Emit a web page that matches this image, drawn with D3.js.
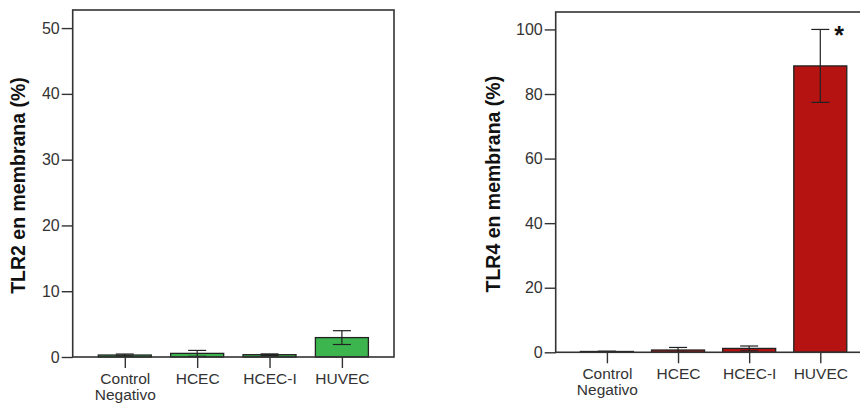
<!DOCTYPE html>
<html>
<head>
<meta charset="utf-8">
<script src="https://cdn.jsdelivr.net/npm/d3@7"></script>
<style>
  html, body { margin: 0; padding: 0; background: #fff; }
  svg { display: block; font-family: "Liberation Sans", Arial, sans-serif; }
</style>
</head>
<body>
<svg id="chart" width="860" height="406"></svg>
<script>
const categories = ["Control Negativo", "HCEC", "HCEC-I", "HUVEC"];
const tlr2Means = [0.3, 0.55, 0.35, 2.95];
const tlr2Errors = [0.15, 0.45, 0.12, 1.05];
const tlr4Means = [0.25, 0.7, 1.2, 88.7];
const tlr4Errors = [0.1, 0.8, 0.75, 11.3];
const tlr2Ticks = [0, 10, 20, 30, 40, 50];
const tlr4Ticks = [0, 20, 40, 60, 80, 100];
const tlr2Label = "TLR2 en membrana (%)";
const tlr4Label = "TLR4 en membrana (%)";
const significance = ["", "", "", "*"];

const svg = d3.select("#chart");

function drawPanel(opts) {
  const { left, right, top, bottom, yMax, means, errors, ticks, label, color, labelX, marks } = opts;
  const g = svg.append("g");

  const x = d3.scalePoint().domain(categories).range([left, right]).padding(0.72);
  const y = d3.scaleLinear().domain([0, yMax]).range([bottom, top]);
  const barW = 53;
  const capW = 18;

  g.selectAll("rect.bar").data(categories).join("rect")
    .attr("class", "bar")
    .attr("x", d => x(d) - barW / 2)
    .attr("width", barW)
    .attr("y", (d, i) => y(means[i]))
    .attr("height", (d, i) => Math.max(0.01, y(0) - y(means[i])))
    .attr("fill", color)
    .attr("stroke", "#222")
    .attr("stroke-width", 1.3);

  const eb = g.selectAll("g.err").data(categories).join("g").attr("class", "err");
  eb.append("line")
    .attr("x1", d => x(d)).attr("x2", d => x(d))
    .attr("y1", (d, i) => y(Math.max(0, means[i] - errors[i])))
    .attr("y2", (d, i) => y(means[i] + errors[i]))
    .attr("stroke", "#222").attr("stroke-width", 1.2);
  eb.append("line")
    .attr("x1", d => x(d) - capW / 2).attr("x2", d => x(d) + capW / 2)
    .attr("y1", (d, i) => y(means[i] + errors[i]))
    .attr("y2", (d, i) => y(means[i] + errors[i]))
    .attr("stroke", "#222").attr("stroke-width", 1.2);
  eb.append("line")
    .attr("x1", d => x(d) - capW / 2).attr("x2", d => x(d) + capW / 2)
    .attr("y1", (d, i) => y(Math.max(0, means[i] - errors[i])))
    .attr("y2", (d, i) => y(Math.max(0, means[i] - errors[i])))
    .attr("stroke", "#222").attr("stroke-width", 1.2);

  g.selectAll("text.sig").data(categories).join("text")
    .attr("class", "sig")
    .attr("x", d => x(d) + capW / 2 + 5)
    .attr("y", (d, i) => y(means[i] + errors[i]) + 15)
    .attr("font-size", 25).attr("font-weight", "bold").attr("fill", "#111")
    .text((d, i) => marks[i]);

  g.append("rect")
    .attr("x", left).attr("y", top)
    .attr("width", right - left).attr("height", bottom - top)
    .attr("fill", "none").attr("stroke", "#333").attr("stroke-width", 1.6);

  const yAxis = d3.axisLeft(y).tickValues(ticks).tickSize(11).tickPadding(2).tickSizeOuter(0);
  const ya = g.append("g").attr("transform", `translate(${left},0)`).call(yAxis);
  ya.select(".domain").remove();
  ya.selectAll(".tick line").attr("stroke", "#333").attr("stroke-width", 1.4);
  ya.selectAll(".tick text").attr("font-size", 16).attr("fill", "#333")
    .attr("font-family", "'Liberation Sans', Arial, sans-serif");

  const xAxis = d3.axisBottom(x).tickSize(11).tickSizeOuter(0).tickFormat("");
  const xa = g.append("g").attr("transform", `translate(0,${bottom})`).call(xAxis);
  xa.select(".domain").remove();
  xa.selectAll(".tick line").attr("stroke", "#333").attr("stroke-width", 1.4);
  xa.selectAll(".tick").each(function(d) {
    const lines = d.split(" ");
    const t = d3.select(this).append("text")
      .attr("fill", "#333").attr("font-size", 15.5)
      .attr("text-anchor", "middle")
      .attr("font-family", "'Liberation Sans', Arial, sans-serif");
    lines.forEach((ln, k) => {
      t.append("tspan").attr("x", 0).attr("y", 27 + k * 16).text(ln);
    });
  });

  g.append("text")
    .attr("transform", `translate(${labelX},${(top + bottom) / 2 + 2}) rotate(-90)`)
    .attr("text-anchor", "middle")
    .attr("font-size", 19.5).attr("font-weight", "bold").attr("fill", "#111")
    .text(label);
}

drawPanel({
  left: 72.7, right: 394, top: 10, bottom: 357, yMax: 52.75,
  means: tlr2Means, errors: tlr2Errors, ticks: tlr2Ticks,
  label: tlr2Label, color: "#3cb54e", labelX: 25, marks: ["", "", "", ""]
});

drawPanel({
  left: 555.7, right: 871.5, top: 12, bottom: 352.3, yMax: 105.4,
  means: tlr4Means, errors: tlr4Errors, ticks: tlr4Ticks,
  label: tlr4Label, color: "#b51212", labelX: 500, marks: significance
});
</script>
</body>
</html>
